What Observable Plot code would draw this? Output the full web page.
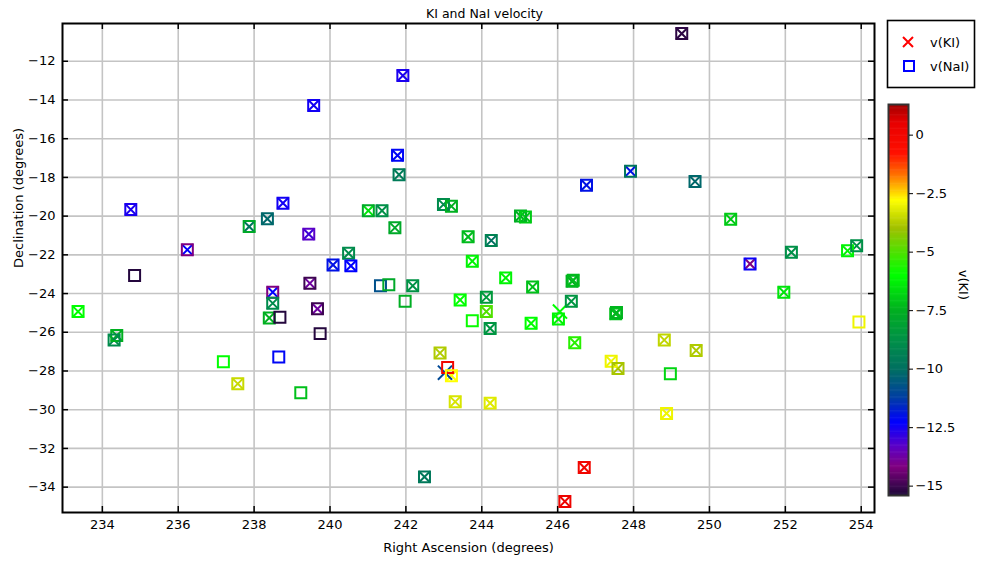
<!DOCTYPE html>
<html>
<head>
<meta charset="utf-8">
<script src="https://cdn.jsdelivr.net/npm/d3@7"></script>
<script src="https://cdn.jsdelivr.net/npm/@observablehq/plot@0.6"></script>
<style>
  body { margin: 0; background: #fff; }
  #chart { position: relative; width: 981px; height: 563px; font-family: "DejaVu Sans", sans-serif; }
  #chart > svg { position: absolute; overflow: visible; }
</style>
</head>
<body>
<div id="chart"></div>
<script>
// Sight lines: position (deg) and absorption-line velocities; null = line not measured
const ra = [249.27, 241.92, 239.57, 241.78, 241.82, 247.92, 246.76, 249.62, 234.75, 238.76,
  238.35, 237.87, 239.44, 236.24, 241.01, 241.37, 241.71, 242.99, 243.20, 245.02,
  245.15, 243.64, 244.25, 243.75, 240.49, 240.08, 240.55, 250.56, 252.16, 253.64,
  253.88, 251.07, 251.96, 247.53, 247.55, 253.94, 248.81, 249.65, 247.41, 247.59,
  248.97, 248.87, 246.70, 246.19, 244.63, 245.34, 246.38, 246.41, 246.36, 246.06,
  246.02, 243.43, 244.12, 244.12, 244.22, 243.75, 245.30, 246.45, 241.33, 241.55,
  242.18, 241.98, 242.90, 243.10, 243.03, 243.20, 243.30, 244.22, 242.49, 234.85,
  233.36, 234.38, 234.31, 237.19, 237.57, 239.23, 238.65, 238.49, 238.49, 238.40,
  238.68, 239.47, 239.67, 239.74];
const dec = [-10.57, -12.74, -14.28, -16.86, -17.86, -17.68, -18.40, -18.21, -19.66, -19.33,
  -20.14, -20.54, -20.93, -21.74, -19.72, -19.72, -20.60, -19.40, -19.49, -20.00,
  -20.05, -21.07, -21.26, -22.33, -21.92, -22.52, -22.57, -20.16, -21.87, -21.79,
  -21.53, -22.47, -23.93, -25.05, -24.98, -25.47, -26.40, -26.94, -27.50, -27.87,
  -28.14, -30.19, -32.99, -34.74, -23.19, -23.66, -23.37, -23.31, -24.40, -24.93,
  -25.32, -24.33, -24.19, -24.93, -25.80, -25.40, -25.54, -26.54, -23.60, -23.54,
  -23.60, -24.40, -27.07, -27.82, -28.09, -28.24, -29.59, -29.66, -33.47, -23.07,
  -24.93, -26.17, -26.40, -27.52, -28.66, -29.12, -27.28, -23.93, -24.50, -25.26,
  -25.23, -23.47, -24.79, -26.07];
const vKI = [-15.2, -12.6, -12.5, -12.2, -9.6, -12.0, -12.0, -10.2, -12.6, -12.5,
  -10.2, -9.8, -13.0, -12.3, -6.5, -8.8, -7.8, -9.0, -7.5, -7.6,
  -7.0, -7.3, -10.0, -6.2, -9.0, -12.0, -12.3, -7.0, -8.8, -6.2,
  -8.8, -14.2, -6.5, -7.2, -7.4, null, -3.6, -3.8, -3.0, -3.9,
  null, -3.0, 0.0, 0.2, -6.2, -7.2, -7.5, -7.3, -8.6, -6.0,
  -6.2, -6.0, -8.4, -5.0, -8.6, null, -6.0, -5.5, null, null,
  -8.7, null, -3.8, null, -11.0, -2.8, -3.3, -3.2, -9.7, null,
  -6.0, -7.5, -9.0, null, -3.5, null, null, -12.3, -9.0, -7.5,
  null, -13.8, -13.8, null];
const vNaI = [-15.2, -12.6, -12.5, -12.2, -9.6, -9.8, -12.0, -10.2, -12.6, -12.5,
  -10.2, -7.8, -13.3, -14.2, -7.8, -8.8, -7.8, -9.0, -7.5, -7.6,
  -7.0, -7.3, -9.3, -6.2, -9.0, -12.0, -12.3, -7.0, -8.8, -6.2,
  -8.8, -12.4, -6.5, -7.2, -7.4, -3.0, -3.6, -3.8, -3.0, -3.9,
  -6.8, -3.0, 0.0, 0.2, -6.2, -7.2, -7.5, -7.3, -8.6, null,
  -6.2, -6.0, -8.4, -5.0, -8.6, -5.9, -6.0, -5.5, -10.8, -7.8,
  -8.7, -7.6, -3.8, 0.0, null, -2.8, -3.3, -3.2, -9.7, -15.3,
  -6.0, -7.5, -9.0, -6.0, -3.5, -7.2, -12.2, -14.2, -9.0, -7.5,
  -15.3, -15.0, -15.0, -15.3];

// Axis ticks
const xTicks = [234, 236, 238, 240, 242, 244, 246, 248, 250, 252, 254];
const yTicks = [-34, -32, -30, -28, -26, -24, -22, -20, -18, -16, -14, -12];
const cbTicks = [0, -2.5, -5, -7.5, -10, -12.5, -15];

// Velocity colour map stops (km/s -> colour)
const rampValues = [-15.4, -14.2, -13.3, -12.3, -11.2, -10, -8.8, -7.5, -6, -5, -4, -2.8, -1.7, -0.8, 0.5, 1.31];
const rampColors = ["#1c0838", "#800080", "#5a00c8", "#0000ff", "#0040a0", "#007060", "#009048", "#00b020",
  "#00ff00", "#50e000", "#a0c000", "#ffff00", "#ff7000", "#ff1000", "#e80000", "#a00000"];

const vMin = -15.4, vMax = 1.31;
const ramp = d3.scaleLinear().domain(rampValues).range(rampColors).interpolate(d3.interpolateRgb).clamp(true);
const colorScale = {type: "linear", domain: [vMin, vMax], interpolate: t => ramp(vMin + t * (vMax - vMin))};

const fmt = d => (d < 0 ? "\u2212" + Math.abs(d) : String(d));

const rows = ra.map((r, i) => ({ra: r, dec: dec[i], ki: vKI[i], nai: vNaI[i]}));
const kiPaired = rows.filter(d => d.ki != null && d.nai != null);
const kiOnly = rows.filter(d => d.ki != null && d.nai == null);
const naiRows = rows.filter(d => d.nai != null);

const W = 981, H = 563, mL = 62, mR = 107, mT = 23, mB = 51;
const fw = W - mL - mR, fh = H - mT - mB;
const tickLen = 6;

const main = Plot.plot({
  width: W, height: H,
  marginLeft: mL, marginRight: mR, marginTop: mT, marginBottom: mB,
  style: {fontFamily: "DejaVu Sans, sans-serif", fontSize: "13px", background: "white", color: "black"},
  x: {domain: [232.95, 254.35]},
  y: {domain: [-35.31, -10.05]},
  color: colorScale,
  marks: [
    Plot.gridX(xTicks, {stroke: "#c4c4c4", strokeOpacity: 1, strokeWidth: 1.6}),
    Plot.gridY(yTicks, {stroke: "#c4c4c4", strokeOpacity: 1, strokeWidth: 1.6}),
    Plot.tickX(xTicks, {x: d => d, insetTop: fh - tickLen, stroke: "black", strokeWidth: 1.5}),
    Plot.tickX(xTicks, {x: d => d, insetBottom: fh - tickLen, stroke: "black", strokeWidth: 1.5}),
    Plot.tickY(yTicks, {y: d => d, insetRight: fw - tickLen, stroke: "black", strokeWidth: 1.5}),
    Plot.tickY(yTicks, {y: d => d, insetLeft: fw - tickLen, stroke: "black", strokeWidth: 1.5}),
    Plot.dot(kiPaired, {x: "ra", y: "dec", symbol: "times", r: 5.2, stroke: "ki", strokeWidth: 2}),
    Plot.dot(kiOnly, {x: "ra", y: "dec", symbol: "times", r: 6.5, stroke: "ki", strokeWidth: 2}),
    Plot.dot(naiRows, {x: "ra", y: "dec", symbol: "square", r: 6.2, stroke: "nai", fill: "none", strokeWidth: 2}),
    Plot.frame({stroke: "black", strokeWidth: 2}),
    Plot.axisX(xTicks, {tickSize: 0, tickPadding: 7, tickFormat: fmt, label: null, fontSize: 13}),
    Plot.axisY(yTicks, {tickSize: 0, tickPadding: 7, tickFormat: fmt, label: null, fontSize: 13}),
    Plot.text(["KI and NaI velocity"], {frameAnchor: "top", dy: -14, dx: 16, fontSize: 12.5}),
    Plot.text(["Right Ascension (degrees)"], {frameAnchor: "bottom", dy: 39, fontSize: 13}),
    Plot.text(["Declination (degrees)"], {frameAnchor: "left", dx: -44, rotate: -90, fontSize: 13})
  ]
});
main.style.left = "0px";
main.style.top = "0px";

// Colour bar
const step = 0.05;
const bands = d3.range(vMin, vMax, step);
const cb = Plot.plot({
  width: 101, height: 407,
  marginLeft: 8, marginRight: 73, marginTop: 8, marginBottom: 8,
  style: {fontFamily: "DejaVu Sans, sans-serif", fontSize: "13px", background: "transparent", color: "black"},
  x: {domain: [0, 1], axis: null},
  y: {domain: [vMin, vMax]},
  color: colorScale,
  marks: [
    Plot.rect(bands, {x1: 0, x2: 1, y1: d => d, y2: d => Math.min(d + step * 1.5, vMax), fill: d => d + step / 2}),
    Plot.frame({stroke: "#333", strokeWidth: 2}),
    Plot.axisY(cbTicks, {anchor: "right", tickSize: 4, tickPadding: 3, tickFormat: fmt, label: null, fontSize: 13}),
    Plot.text(["v(KI)"], {frameAnchor: "right", dx: 55, rotate: 90, fontSize: 13})
  ]
});
cb.style.left = "880px";
cb.style.top = "96px";

const chart = document.getElementById("chart");
chart.append(main, cb);

// Symbol legend
const ns = "http://www.w3.org/2000/svg";
const leg = document.createElementNS(ns, "svg");
leg.setAttribute("width", 94);
leg.setAttribute("height", 74);
leg.style.left = "884px";
leg.style.top = "17px";
leg.innerHTML = `
  <rect x="3.5" y="3.5" width="87" height="67" fill="white" stroke="black" stroke-width="1.6"/>
  <path d="M19,20L29,30M29,20L19,30" stroke="#ff0000" stroke-width="2" fill="none"/>
  <rect x="20" y="44" width="10" height="10" stroke="#0000ff" stroke-width="2" fill="none"/>
  <text x="46" y="30" font-size="13" font-family="DejaVu Sans, sans-serif">v(KI)</text>
  <text x="46" y="54" font-size="13" font-family="DejaVu Sans, sans-serif">v(NaI)</text>`;
chart.append(leg);
</script>
</body>
</html>
